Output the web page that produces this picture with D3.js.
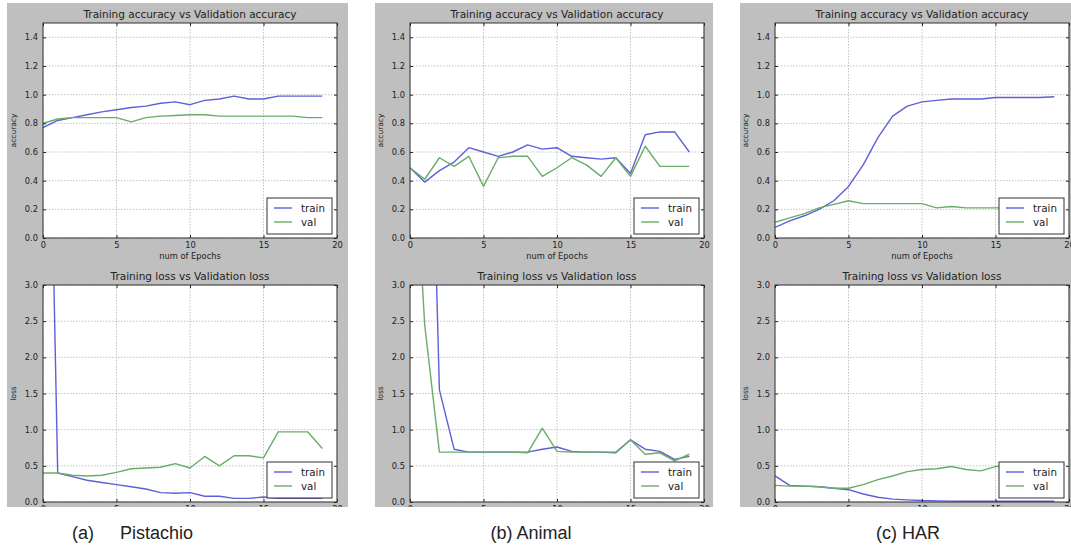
<!DOCTYPE html>
<html>
<head>
<meta charset="utf-8">
<script src="https://cdn.jsdelivr.net/npm/d3@7"></script>
<style>
  body { margin: 0; background: #fff; }
  svg { display: block; }
</style>
</head>
<body>
<div id="chart"></div>
<script>
// epochs on the x axis
var epochs = [0, 1, 2, 3, 4, 5, 6, 7, 8, 9, 10, 11, 12, 13, 14, 15, 16, 17, 18, 19];

// (a) Pistachio
var pistachioAccTrain  = [0.77, 0.82, 0.84, 0.86, 0.88, 0.895, 0.91, 0.92, 0.94, 0.95, 0.93, 0.96, 0.97, 0.99, 0.97, 0.97, 0.99, 0.99, 0.99, 0.99];
var pistachioAccVal    = [0.80, 0.83, 0.84, 0.84, 0.84, 0.84, 0.81, 0.84, 0.85, 0.855, 0.86, 0.86, 0.85, 0.85, 0.85, 0.85, 0.85, 0.85, 0.84, 0.84];
var pistachioLossTrain = [10.5, 0.40, 0.35, 0.30, 0.27, 0.24, 0.21, 0.18, 0.13, 0.12, 0.13, 0.08, 0.08, 0.05, 0.05, 0.07, 0.05, 0.05, 0.05, 0.05];
var pistachioLossVal   = [0.40, 0.40, 0.37, 0.36, 0.37, 0.41, 0.46, 0.47, 0.48, 0.53, 0.47, 0.63, 0.50, 0.64, 0.64, 0.61, 0.97, 0.97, 0.97, 0.74];

// (b) Animal
var animalAccTrain  = [0.49, 0.39, 0.47, 0.53, 0.63, 0.60, 0.57, 0.60, 0.65, 0.62, 0.63, 0.57, 0.56, 0.55, 0.56, 0.45, 0.72, 0.74, 0.74, 0.60];
var animalAccVal    = [0.49, 0.41, 0.56, 0.50, 0.57, 0.36, 0.56, 0.57, 0.57, 0.43, 0.49, 0.56, 0.51, 0.43, 0.56, 0.43, 0.64, 0.50, 0.50, 0.50];
var animalLossTrain = [12.0, 9.2, 1.55, 0.73, 0.69, 0.69, 0.69, 0.69, 0.69, 0.73, 0.76, 0.70, 0.69, 0.69, 0.68, 0.86, 0.73, 0.70, 0.59, 0.63];
var animalLossVal   = [6.0, 2.45, 0.69, 0.69, 0.69, 0.69, 0.69, 0.69, 0.68, 1.02, 0.70, 0.69, 0.69, 0.69, 0.69, 0.86, 0.66, 0.68, 0.57, 0.66];

// (c) HAR
var harAccTrain  = [0.074, 0.12, 0.155, 0.20, 0.26, 0.36, 0.51, 0.70, 0.85, 0.92, 0.95, 0.96, 0.97, 0.97, 0.97, 0.98, 0.98, 0.98, 0.98, 0.985];
var harAccVal    = [0.11, 0.14, 0.17, 0.21, 0.235, 0.26, 0.24, 0.24, 0.24, 0.24, 0.24, 0.21, 0.22, 0.21, 0.21, 0.21, 0.21, 0.21, 0.21, 0.21];
var harLossTrain = [0.36, 0.23, 0.22, 0.21, 0.19, 0.17, 0.11, 0.065, 0.04, 0.03, 0.02, 0.015, 0.012, 0.01, 0.01, 0.01, 0.01, 0.01, 0.01, 0.01];
var harLossVal   = [0.23, 0.22, 0.22, 0.21, 0.19, 0.19, 0.24, 0.31, 0.36, 0.42, 0.45, 0.46, 0.49, 0.45, 0.43, 0.49, 0.50, 0.50, 0.50, 0.50];

// ticks
var epochTicks = [0, 5, 10, 15, 20];
var accTicks   = [0.0, 0.2, 0.4, 0.6, 0.8, 1.0, 1.2, 1.4];
var lossTicks  = [0.0, 0.5, 1.0, 1.5, 2.0, 2.5, 3.0];
var seriesNames = ["train", "val"];

var W = 1071, H = 548;
var TRAIN_COLOR = "#5f5fd8", VAL_COLOR = "#68ad68";
var FONT = "DejaVu Sans";

var svg = d3.select("#chart").append("svg")
    .attr("width", W)
    .attr("height", H);
var defs = svg.append("defs");

var panels = [
  { bg: [7, 348],    ax: [43, 337],   acc: [pistachioAccTrain, pistachioAccVal], loss: [pistachioLossTrain, pistachioLossVal] },
  { bg: [375, 713],  ax: [410, 704],  acc: [animalAccTrain, animalAccVal],       loss: [animalLossTrain, animalLossVal] },
  { bg: [740, 1071], ax: [775, 1069], acc: [harAccTrain, harAccVal],             loss: [harLossTrain, harLossVal] }
];

panels.forEach(function (p, i) {
  // the gray figure is cropped just under the loss axes
  defs.append("clipPath").attr("id", "panel" + i)
    .append("rect")
      .attr("x", p.bg[0]).attr("y", 3)
      .attr("width", p.bg[1] - p.bg[0]).attr("height", 504);

  var g = svg.append("g").attr("clip-path", "url(#panel" + i + ")");
  g.append("rect")
    .attr("x", p.bg[0]).attr("y", 3)
    .attr("width", p.bg[1] - p.bg[0]).attr("height", 504)
    .attr("fill", "#bfbfbf");

  drawPlot(g, "a" + i, { x0: p.ax[0], x1: p.ax[1], y0: 23, y1: 238 },
    [0, 1.5], accTicks, p.acc,
    "Training accuracy vs Validation accuracy", "accuracy", "num of Epochs");
  drawPlot(g, "l" + i, { x0: p.ax[0], x1: p.ax[1], y0: 285, y1: 502 },
    [0, 3], lossTicks, p.loss,
    "Training loss vs Validation loss", "loss", "num of Epochs");
});

function drawPlot(g, id, box, yDomain, yTicks, series, title, ylabel, xlabel) {
  var x = d3.scaleLinear().domain([0, 20]).range([box.x0, box.x1]);
  var y = d3.scaleLinear().domain(yDomain).range([box.y1, box.y0]);

  g.append("rect")
    .attr("x", box.x0).attr("y", box.y0)
    .attr("width", box.x1 - box.x0).attr("height", box.y1 - box.y0)
    .attr("fill", "#fff");

  // dotted grid
  var grid = g.append("g")
    .attr("stroke", "#b4b4b4")
    .attr("stroke-width", 0.8)
    .attr("stroke-dasharray", "1.5,1.5");
  grid.selectAll(".gx").data(epochTicks).enter().append("line")
    .attr("x1", function (d) { return x(d); }).attr("x2", function (d) { return x(d); })
    .attr("y1", box.y0).attr("y2", box.y1);
  grid.selectAll(".gy").data(yTicks).enter().append("line")
    .attr("x1", box.x0).attr("x2", box.x1)
    .attr("y1", function (d) { return y(d); }).attr("y2", function (d) { return y(d); });

  defs.append("clipPath").attr("id", "clip-" + id)
    .append("rect")
      .attr("x", box.x0).attr("y", box.y0)
      .attr("width", box.x1 - box.x0).attr("height", box.y1 - box.y0);

  var line = d3.line()
    .x(function (d, i) { return x(epochs[i]); })
    .y(function (d) { return y(d); });

  var colors = [TRAIN_COLOR, VAL_COLOR];
  var lines = g.append("g").attr("clip-path", "url(#clip-" + id + ")");
  series.forEach(function (s, k) {
    lines.append("path")
      .datum(s)
      .attr("d", line)
      .attr("fill", "none")
      .attr("stroke", colors[k])
      .attr("stroke-width", 1.4)
      .attr("stroke-linejoin", "round");
  });

  // ticks point inward on all four sides (classic style)
  var fmt = d3.format(".1f");
  var axB = g.append("g")
    .attr("transform", "translate(0," + box.y1 + ")")
    .call(d3.axisBottom(x).tickValues(epochTicks).tickSizeInner(-3).tickSizeOuter(0).tickPadding(4));
  var axT = g.append("g")
    .attr("transform", "translate(0," + box.y0 + ")")
    .call(d3.axisTop(x).tickValues(epochTicks).tickSizeInner(-3).tickSizeOuter(0).tickFormat(""));
  var axL = g.append("g")
    .attr("transform", "translate(" + box.x0 + ",0)")
    .call(d3.axisLeft(y).tickValues(yTicks).tickFormat(fmt).tickSizeInner(-3).tickSizeOuter(0).tickPadding(5));
  var axR = g.append("g")
    .attr("transform", "translate(" + box.x1 + ",0)")
    .call(d3.axisRight(y).tickValues(yTicks).tickSizeInner(-3).tickSizeOuter(0).tickFormat(""));
  [axB, axT, axL, axR].forEach(function (a) {
    a.select(".domain").remove();
    a.attr("font-family", FONT).attr("font-size", 8.3);
    a.selectAll("line").attr("stroke", "#222");
    a.selectAll("text").attr("fill", "#222");
  });

  g.append("rect")
    .attr("x", box.x0).attr("y", box.y0)
    .attr("width", box.x1 - box.x0).attr("height", box.y1 - box.y0)
    .attr("fill", "none")
    .attr("stroke", "#333")
    .attr("stroke-width", 1);

  var cx = (box.x0 + box.x1) / 2;
  g.append("text")
    .attr("x", cx).attr("y", box.y0 - 5)
    .attr("text-anchor", "middle")
    .attr("font-family", FONT).attr("font-size", 10.5)
    .attr("fill", "#222")
    .text(title);

  g.append("text")
    .attr("x", cx).attr("y", box.y1 + 21)
    .attr("text-anchor", "middle")
    .attr("font-family", FONT).attr("font-size", 8.3)
    .attr("fill", "#222")
    .text(xlabel);

  g.append("text")
    .attr("transform", "translate(" + (box.x0 - 27) + "," + ((box.y0 + box.y1) / 2) + ") rotate(-90)")
    .attr("text-anchor", "middle")
    .attr("font-family", FONT).attr("font-size", 7.5)
    .attr("fill", "#222")
    .text(ylabel);

  // legend, lower right
  var lw = 65, lh = 36;
  var lx = box.x1 - 5 - lw, ly = box.y1 - 4 - lh;
  var leg = g.append("g").attr("transform", "translate(" + lx + "," + ly + ")");
  leg.append("rect")
    .attr("width", lw).attr("height", lh)
    .attr("fill", "#fff").attr("stroke", "#333").attr("stroke-width", 1);
  seriesNames.forEach(function (name, k) {
    var yy = 10 + k * 14;
    leg.append("line")
      .attr("x1", 7).attr("x2", 25).attr("y1", yy).attr("y2", yy)
      .attr("stroke", colors[k]).attr("stroke-width", 1.4);
    leg.append("text")
      .attr("x", 34).attr("y", yy + 3.5)
      .attr("font-family", FONT).attr("font-size", 10.3)
      .attr("fill", "#222")
      .text(name);
  });
}

// captions under each panel
svg.append("text").attr("x", 72).attr("y", 539)
  .attr("font-family", "Liberation Sans").attr("font-size", 18).attr("fill", "#222")
  .text("(a)");
svg.append("text").attr("x", 120).attr("y", 539)
  .attr("font-family", "Liberation Sans").attr("font-size", 18).attr("fill", "#222")
  .text("Pistachio");
svg.append("text").attr("x", 531).attr("y", 539).attr("text-anchor", "middle")
  .attr("font-family", "Liberation Sans").attr("font-size", 18).attr("fill", "#222")
  .text("(b) Animal");
svg.append("text").attr("x", 908).attr("y", 539).attr("text-anchor", "middle")
  .attr("font-family", "Liberation Sans").attr("font-size", 18).attr("fill", "#222")
  .text("(c) HAR");
</script>
</body>
</html>
